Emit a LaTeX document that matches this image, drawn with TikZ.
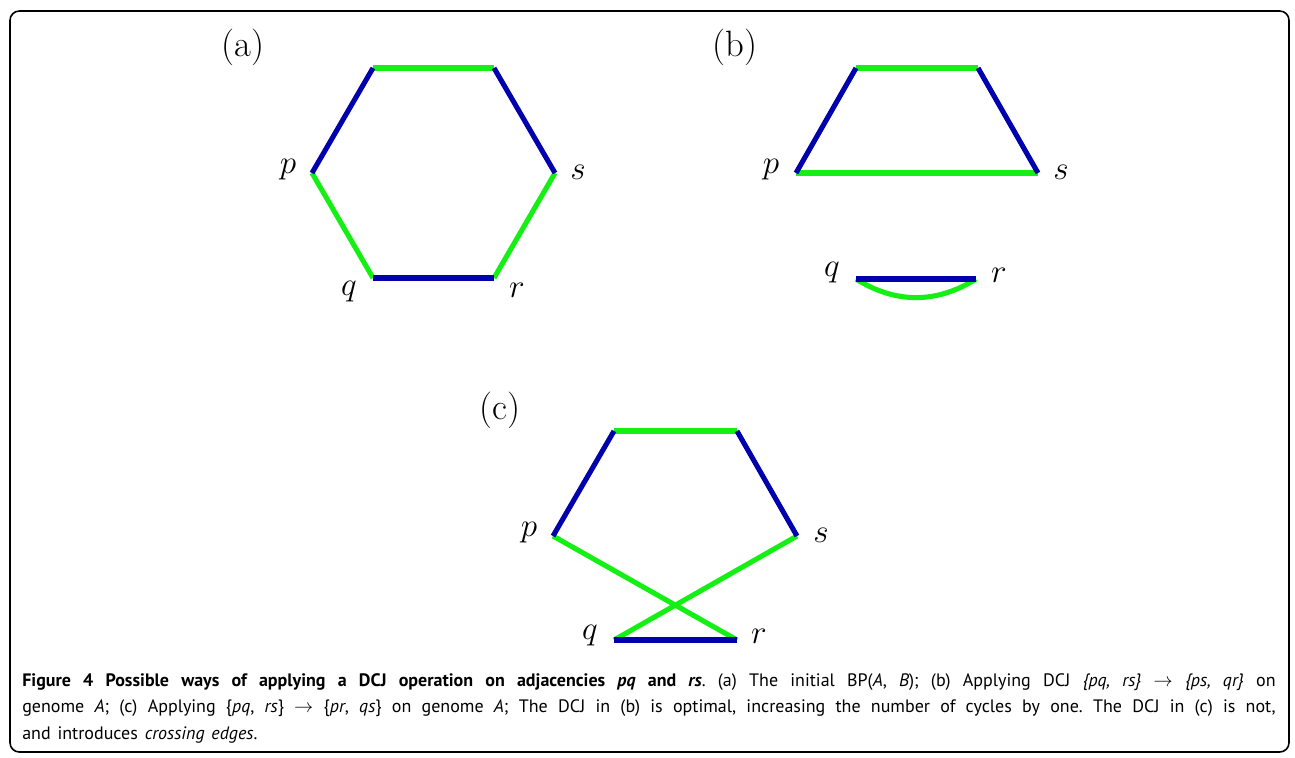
\documentclass[tikz,border=0pt]{standalone}
\usepackage{fontspec}
\newfontfamily\capfont{PT Sans}
\newcommand\capstyle{\capfont\fontsize{13.5}{20}\selectfont\frenchspacing
  \spaceskip=0.38em plus 0.3em minus 0.05em\relax}
\definecolor{bpblue}{RGB}{0,0,172}
\definecolor{bpgreen}{RGB}{20,240,20}

\begin{document}
\begin{tikzpicture}[
    x=0.75pt,
    y=-0.75pt,
    every node/.style={inner sep=0pt},
    vlabel/.style={font=\fontsize{26}{30}\selectfont},
    plabel/.style={font=\fontsize{27.5}{30}\selectfont},
    genA/.style={draw=bpblue, line width=3.8pt},
    genB/.style={draw=bpgreen, line width=3.8pt}
]
    \useasboundingbox (0,0) rectangle (1295,757);
    \draw[line width=1.2pt, rounded corners=7pt] (10,11) rectangle (1289,752);

    % (a) the initial breakpoint graph
    \coordinate (a1) at (373,68);
    \coordinate (a2) at (494,68);
    \coordinate (ap) at (312,173);
    \coordinate (as) at (555,173);
    \coordinate (aq) at (373,278);
    \coordinate (ar) at (494,278);

    \draw[genB] (a1) -- (a2);
    \draw[genB] (ap) -- (aq);
    \draw[genB] (as) -- (ar);
    \draw[genA] (a1) -- (ap);
    \draw[genA] (a2) -- (as);
    \draw[genA] (aq) -- (ar);

    % (b) after {pq,rs} -> {ps,qr}
    \coordinate (b1) at (856,68);
    \coordinate (b2) at (978,68);
    \coordinate (bp) at (796,173);
    \coordinate (bs) at (1038,173);
    \coordinate (bq) at (856,279);
    \coordinate (br) at (976,279);

    \draw[genB] (b1) -- (b2);
    \draw[genB] (bp) -- (bs);
    \draw[genB] (bq) to[bend right=32] (br);
    \draw[genA] (b1) -- (bp);
    \draw[genA] (b2) -- (bs);
    \draw[genA] (bq) -- (br);

    % (c) after {pq,rs} -> {pr,qs}
    \coordinate (c1) at (614,431);
    \coordinate (c2) at (737,431);
    \coordinate (cp) at (553,536);
    \coordinate (cs) at (797,536);
    \coordinate (cq) at (614,640);
    \coordinate (cr) at (737,640);

    \draw[genB] (c1) -- (c2);
    \draw[genB] (cp) -- (cr);
    \draw[genB] (cs) -- (cq);
    \draw[genA] (c1) -- (cp);
    \draw[genA] (c2) -- (cs);
    \draw[genA] (cq) -- (cr);

    \foreach \n/\t/\x/\y in {
        ta/a/243/47, tb/b/735/47, tc/c/500/410
    }{
        \node[plabel] (\n) at (\x,\y) {(\t)};
    }

    \foreach \n/\t/\x/\y in {
        lap/p/288/170, las/s/578/172, laq/q/349/292, lar/r/517/290,
        lbp/p/771/170, lbs/s/1061/172, lbq/q/832/273, lbr/r/999/275,
        lcp/p/529/533, lcs/s/821/535, lcq/q/590/636, lcr/r/759/636
    }{
        \node[vlabel] (\n) at (\x,\y) {$\t$};
    }

    \node[anchor=north west, text width=940pt, align=justify,
          font=\capstyle] (caption) at (22,673)
    {\textbf{Figure 4 Possible ways of applying a DCJ operation on adjacencies \textit{pq} and \textit{rs}}. (a) The initial BP(\textit{A}, \textit{B}); (b) Applying DCJ \textit{\{pq, rs\}} $\rightarrow$ \textit{\{ps, qr\}} on\linebreak genome \textit{A}; (c) Applying \{\textit{pq}, \textit{rs}\} $\rightarrow$ \{\textit{pr}, \textit{qs}\} on genome \textit{A}; The DCJ in (b) is optimal, increasing the number of cycles by one. The DCJ in (c) is not,\linebreak and introduces \textit{crossing edges}.};
\end{tikzpicture}
\end{document}
